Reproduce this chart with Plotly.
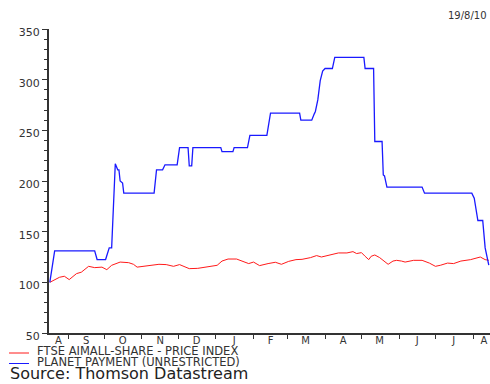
import plotly.graph_objects as go

# ---- data ----
planet_dates = [
    "2009-08-17", "2009-08-21", "2009-09-23", "2009-09-25", "2009-10-02", "2009-10-04",
    "2009-10-05", "2009-10-07", "2009-10-10", "2009-10-12", "2009-10-13", "2009-10-14",
    "2009-10-16", "2009-10-17", "2009-11-11", "2009-11-13", "2009-11-18", "2009-11-20",
    "2009-11-30", "2009-12-02", "2009-12-09", "2009-12-10", "2009-12-12", "2009-12-13",
    "2010-01-05", "2010-01-06", "2010-01-15", "2010-01-16", "2010-01-27", "2010-01-29",
    "2010-02-12", "2010-02-15", "2010-03-11", "2010-03-12", "2010-03-21", "2010-03-23",
    "2010-03-24", "2010-03-26", "2010-03-28", "2010-03-30", "2010-04-01", "2010-04-07",
    "2010-04-09", "2010-05-03", "2010-05-04", "2010-05-11", "2010-05-12", "2010-05-18",
    "2010-05-19", "2010-05-20", "2010-05-22", "2010-06-20", "2010-06-22", "2010-07-31",
    "2010-08-02", "2010-08-05", "2010-08-09", "2010-08-11", "2010-08-14",
]
planet_values = [
    100, 131, 131, 122.5, 122.5, 132,
    134, 134, 217, 211, 211, 200,
    198, 188, 188, 211, 211, 216,
    216, 233, 233, 215, 215, 233,
    233, 229, 229, 233, 233, 245,
    245, 267, 267, 260, 260, 266,
    268.6, 280, 299, 308.5, 311, 311,
    322, 322, 311, 311, 239, 239,
    206, 205, 194, 194, 188, 188,
    183, 161, 161, 134, 117,
]

ftse_dates = [
    "2009-08-17", "2009-08-25", "2009-08-29", "2009-09-02", "2009-09-08", "2009-09-12",
    "2009-09-18", "2009-09-23", "2009-09-29", "2009-10-03", "2009-10-07", "2009-10-14",
    "2009-10-21", "2009-10-25", "2009-10-28", "2009-11-02", "2009-11-08", "2009-11-15",
    "2009-11-21", "2009-11-27", "2009-12-02", "2009-12-10", "2009-12-17", "2009-12-25",
    "2010-01-02", "2010-01-06", "2010-01-11", "2010-01-18", "2010-01-22", "2010-01-28",
    "2010-02-01", "2010-02-06", "2010-02-13", "2010-02-19", "2010-02-24", "2010-03-02",
    "2010-03-08", "2010-03-13", "2010-03-20", "2010-03-25", "2010-03-29", "2010-04-04",
    "2010-04-09", "2010-04-12", "2010-04-19", "2010-04-24", "2010-04-27", "2010-05-01",
    "2010-05-04", "2010-05-07", "2010-05-09", "2010-05-12", "2010-05-16", "2010-05-19",
    "2010-05-23", "2010-05-27", "2010-05-30", "2010-06-03", "2010-06-06", "2010-06-13",
    "2010-06-20", "2010-06-26", "2010-07-01", "2010-07-05", "2010-07-11", "2010-07-16",
    "2010-07-22", "2010-07-30", "2010-08-07", "2010-08-11", "2010-08-14",
]
ftse_values = [
    100, 105, 106, 102.7, 108.6, 110,
    115.8, 114.5, 115, 112.5, 116.8, 120,
    119.4, 117.8, 115, 115.8, 116.8, 117.8,
    117.5, 115.8, 117.5, 113.5, 113.8, 115,
    116.8, 121, 123, 123, 121, 118.5,
    120, 116.5, 118.5, 119.8, 117.8, 120.7,
    122.4, 122.7, 124.4, 126.4, 125, 126.4,
    127.7, 129, 129, 130.3, 128.4, 129.3,
    125.7, 122.4, 125.7, 127, 124.4, 121.7,
    117.8, 121, 121.7, 121, 120, 121.7,
    121.7, 119, 115.8, 116.8, 119, 118.5,
    121, 122.4, 125, 122.4, 121.7,
]

month_ticks = ["2009-09-01", "2009-10-01", "2009-11-01", "2009-12-01", "2010-01-01",
               "2010-02-01", "2010-03-01", "2010-04-01", "2010-05-01", "2010-06-01",
               "2010-07-01", "2010-08-01"]
month_label_pos = ["2009-08-24", "2009-09-16", "2009-10-16", "2009-11-16", "2009-12-16",
                   "2010-01-16", "2010-02-15", "2010-03-16", "2010-04-16", "2010-05-16",
                   "2010-06-16", "2010-07-16", "2010-08-10"]
month_labels = ["A", "S", "O", "N", "D", "J", "F", "M", "A", "M", "J", "J", "A"]

ftse_name = "FTSE AIMALL-SHARE - PRICE INDEX"
planet_name = "PLANET PAYMENT (UNRESTRICTED)"

# ---- layout geometry (pixels) ----
W, H = 490, 384
L, R, T, B = 49, 0, 29, 51
PW, PH = W - L - R, H - T - B


def px(x):
    return (x - L) / PW


def py(y):
    return (H - B - y) / PH


FONT = "DejaVu Sans"
AX = "#333333"

fig = go.Figure()
fig.add_trace(go.Scatter(x=ftse_dates, y=ftse_values, mode="lines", name=ftse_name,
                         line=dict(color="#ff1a1a", width=1)))
fig.add_trace(go.Scatter(x=planet_dates, y=planet_values, mode="lines", name=planet_name,
                         line=dict(color="#1a1aff", width=1.3)))
# invisible trace on overlay axis for month letters
fig.add_trace(go.Scatter(x=[month_label_pos[0]], y=[None], xaxis="x2", showlegend=False,
                         hoverinfo="skip"))

xr = ["2009-08-16 08:00", "2010-08-15 00:00"]

fig.update_layout(
    width=W, height=H,
    margin=dict(l=L, r=R, t=T, b=B, pad=0),
    paper_bgcolor="white", plot_bgcolor="white",
    showlegend=False,
    font=dict(family=FONT, size=11, color=AX),
    xaxis=dict(range=xr, type="date", tickvals=month_ticks, showticklabels=False,
               ticks="outside", ticklen=4, tickwidth=1, tickcolor=AX,
               showline=True, linecolor=AX, linewidth=2, showgrid=False, zeroline=False,
               automargin=False),
    xaxis2=dict(range=xr, type="date", overlaying="x", side="bottom", matches="x",
                tickvals=month_label_pos, ticktext=month_labels, ticks="", ticklen=0,
                showline=False, showgrid=False, zeroline=False, automargin=False,
                tickfont=dict(family=FONT, size=10, color=AX)),
    yaxis=dict(range=[50, 350], tickvals=[50, 100, 150, 200, 250, 300, 350],
               ticks="outside", ticklen=5, tickwidth=1, tickcolor=AX,
               minor=dict(dtick=10, tick0=50, ticks="outside", ticklen=3, tickcolor=AX, showgrid=False),
               showline=True, linecolor=AX, linewidth=2, showgrid=False, zeroline=False,
               automargin=False,
               ticklabelshift=3, tickfont=dict(family=FONT, size=11, color=AX)),
)

annos = [
    dict(text="19/8/10", x=px(489), y=py(15), xanchor="right", yanchor="middle",
         font=dict(family=FONT, size=10, color=AX)),
    dict(text=ftse_name, x=px(35), y=py(351), xanchor="left", yanchor="middle",
         font=dict(family=FONT, size=11.5, color=AX)),
    dict(text=planet_name, x=px(35), y=py(362), xanchor="left", yanchor="middle",
         font=dict(family=FONT, size=11.5, color=AX)),
    dict(text="Source: Thomson Datastream", x=px(8), y=py(373.5), xanchor="left", yanchor="middle",
         font=dict(family=FONT, size=16, color="#222222")),
]
for a in annos:
    a.update(xref="paper", yref="paper", showarrow=False)
fig.update_layout(annotations=annos)

fig.add_shape(type="line", xref="paper", yref="paper", x0=px(9), x1=px(29), y0=py(353), y1=py(353),
              line=dict(color="#ff1a1a", width=1))
fig.add_shape(type="line", xref="paper", yref="paper", x0=px(9), x1=px(29), y0=py(363.5), y1=py(363.5),
              line=dict(color="#1a1aff", width=1))

fig.write_html("out.html", config={"displayModeBar": False},
               post_script="document.body.style.margin='0';document.body.style.overflow='hidden';")
